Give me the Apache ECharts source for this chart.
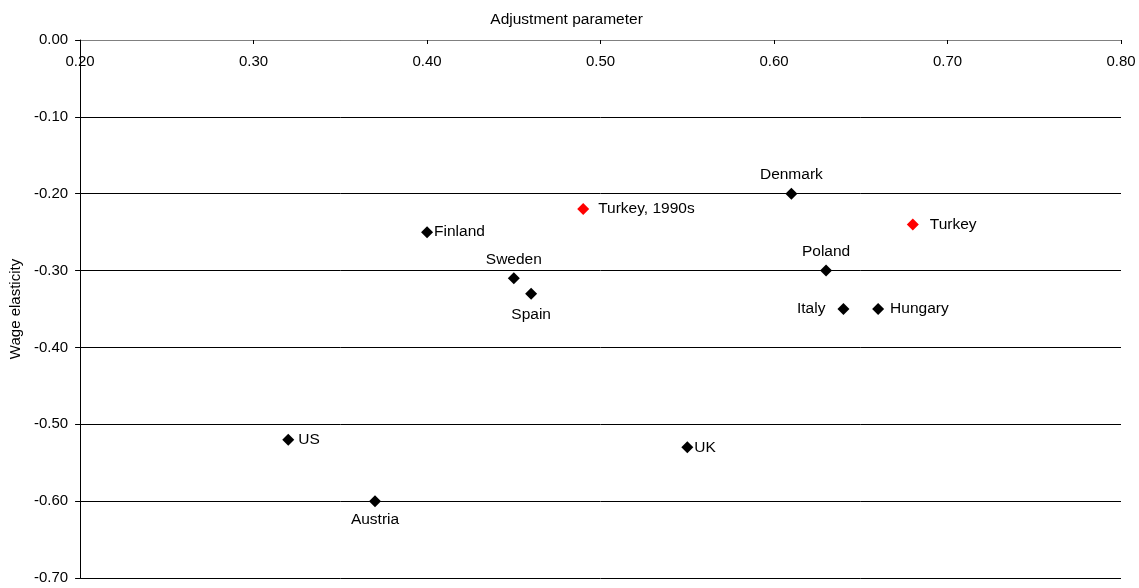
<!DOCTYPE html>
<html>
<head>
<meta charset="utf-8">
<script src="https://cdn.jsdelivr.net/npm/echarts@6/dist/echarts.min.js"></script>
<style>html,body{margin:0;padding:0;background:#fff}#c{width:1139px;height:588px}</style>
</head>
<body>
<div id="c"></div>
<script>
var countries = ['US','Austria','Finland','Sweden','Spain','Turkey, 1990s','Denmark','Poland','Italy','Hungary','Turkey','UK'];
var adjustment = [0.32,0.37,0.40,0.45,0.46,0.49,0.61,0.63,0.64,0.66,0.68,0.55];
var elasticity = [-0.52,-0.60,-0.25,-0.31,-0.33,-0.22,-0.20,-0.30,-0.35,-0.35,-0.24,-0.53];
var highlighted = ['Turkey, 1990s','Turkey'];
var xTicks = [0.20,0.30,0.40,0.50,0.60,0.70,0.80];
var yTicks = [0.00,-0.10,-0.20,-0.30,-0.40,-0.50,-0.60,-0.70];

var labelStyle = {
  'US': {position:'right', distance:4},
  'Austria': {position:'bottom', distance:5},
  'Finland': {position:'right', distance:1},
  'Sweden': {position:'top', distance:5},
  'Spain': {position:'bottom', distance:7},
  'Turkey, 1990s': {position:'right', distance:9},
  'Denmark': {position:'top', distance:5},
  'Poland': {position:'top', distance:5},
  'Italy': {position:'left', distance:12},
  'Hungary': {position:'right', distance:6},
  'Turkey': {position:'right', distance:11},
  'UK': {position:'right', distance:1}
};

var font = 'Liberation Sans, Arial, sans-serif';

var data = countries.map(function(n,i){
  var ls = labelStyle[n];
  var red = highlighted.indexOf(n) >= 0;
  return {
    name: n,
    value: [adjustment[i], elasticity[i]],
    itemStyle: {color: red ? '#ff0000' : '#000000', opacity:1},
    label: {show:true, formatter: n, position: ls.position, distance: ls.distance,
      color:'#000000', fontSize:15.5, fontFamily:font}
  };
});

var chart = echarts.init(document.getElementById('c'), null, {renderer:'canvas'});
chart.setOption({
  animation:false,
  backgroundColor:'#ffffff',
  grid:{left:80,right:18,top:40,bottom:10,containLabel:false},
  xAxis:{
    type:'value', position:'top', min:0.2, max:0.8, interval:0.1,
    name:'Adjustment parameter', nameLocation:'middle', nameGap:12,
    nameTextStyle:{color:'#000',fontSize:15.5,fontFamily:font,padding:[0,68,0,0]},
    axisLine:{show:true,onZero:false,lineStyle:{color:'#808080',width:1}},
    axisTick:{show:true,inside:true,length:4,lineStyle:{color:'#000'}},
    axisLabel:{inside:true,margin:14,color:'#000',fontSize:15,fontFamily:font,
      formatter:function(v){return v.toFixed(2);}},
    splitLine:{show:false}
  },
  yAxis:{
    type:'value', min:-0.7, max:0, interval:0.1,
    name:'Wage elasticity', nameLocation:'middle', nameGap:50, nameRotate:90,
    nameTextStyle:{color:'#000',fontSize:15,fontFamily:font},
    axisLine:{show:true,onZero:false,lineStyle:{color:'#000',width:1}},
    axisTick:{show:true,length:5,lineStyle:{color:'#000'}},
    axisLabel:{margin:12,color:'#000',fontSize:15,fontFamily:font,
      formatter:function(v){return v.toFixed(2);}},
    splitLine:{show:true,lineStyle:{color:'#000',width:1}}
  },
  series:[{
    type:'scatter',
    symbol:'diamond',
    symbolSize:12,
    itemStyle:{opacity:1},
    data:data,
    label:{color:'#000',fontSize:15.5,fontFamily:font}
  }]
});
</script>
</body>
</html>
